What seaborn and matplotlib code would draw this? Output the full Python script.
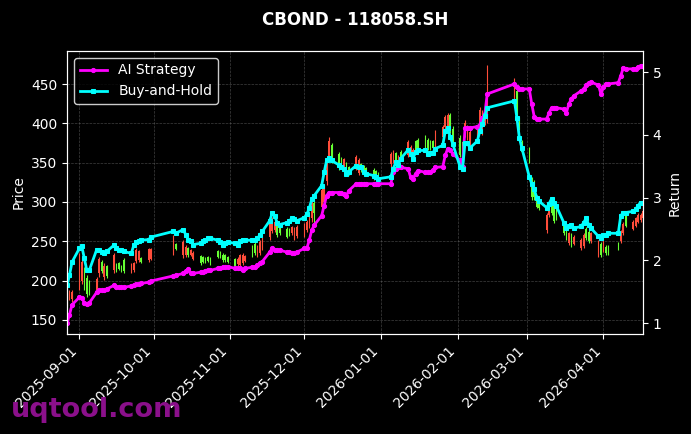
import numpy as np
import pandas as pd
import matplotlib
matplotlib.use("Agg")
import matplotlib.pyplot as plt
import matplotlib.dates as mdates
import seaborn as sns

# trading calendar (SSE holidays removed)
holidays = ["2025-10-01", "2025-10-02", "2025-10-03", "2025-10-06", "2025-10-07", "2025-10-08",
            "2026-01-01", "2026-01-02",
            "2026-02-16", "2026-02-17", "2026-02-18", "2026-02-19", "2026-02-20", "2026-02-23",
            "2026-04-06"]
dates = pd.bdate_range("2025-08-27", "2026-04-17")
dates = dates[~dates.isin(pd.to_datetime(holidays))]

open_ = [182, 186, 185, 228, 224, 192, 183, 185, 202, 227,
         212, 219, 206, 232, 213, 215, 212, 212, 220, 222,
         239, 237, 224, 240, 240, 255, 240, 249, 243, 232,
         239, 235, 222, 224, 224, 225, 222, 230, 231, 226,
         226, 224, 219, 228, 232, 233, 231, 232, 235, 243,
         249, 253, 272, 278, 275, 258, 260, 256, 259, 268,
         266, 268, 271, 275, 281, 302, 286, 315, 318, 350,
         378, 353, 344, 347, 354, 336, 336, 357, 353, 340,
         336, 336, 330, 332, 330, 361, 364, 352, 358, 355,
         376, 370, 366, 366, 368, 369, 368, 368, 368, 388,
         395, 408, 410, 391, 378, 360, 357, 401, 395, 389,
         395, 417, 413, 414, 432, 453, 412, 394, 364, 352,
         306, 306, 294, 292, 283, 296, 286, 276, 279, 260,
         254, 260, 245, 256, 252, 258, 254, 250, 260, 249,
         233, 250, 235, 235, 240, 262, 272, 270, 275, 279,
         284, 284, 288]
high = [184, 188, 188, 235, 229, 217, 207, 201, 205, 230,
        226, 222, 220, 235, 222, 224, 220, 229, 222, 224,
        242, 239, 230, 242, 242, 258, 248, 252, 245, 243,
        240, 237, 233, 231, 230, 231, 230, 239, 238, 235,
        234, 231, 229, 230, 234, 235, 233, 245, 249, 245,
        252, 256, 275, 281, 277, 273, 271, 268, 267, 270,
        268, 271, 273, 277, 284, 306, 303, 319, 322, 354,
        383, 375, 364, 357, 356, 351, 346, 360, 356, 350,
        347, 345, 343, 341, 338, 364, 366, 364, 360, 366,
        379, 373, 369, 379, 381, 385, 381, 379, 379, 392,
        398, 411, 413, 413, 396, 385, 379, 404, 398, 392,
        398, 421, 417, 417, 474, 458, 446, 408, 379, 370,
        332, 328, 309, 303, 286, 299, 303, 299, 296, 275,
        268, 262, 261, 258, 254, 261, 268, 264, 262, 252,
        249, 252, 245, 245, 249, 264, 275, 286, 277, 281,
        286, 286, 290]
low = [167, 175, 173, 188, 195, 188, 179, 182, 184, 205,
       210, 201, 203, 210, 211, 214, 211, 210, 210, 211,
       222, 224, 222, 224, 226, 233, 239, 229, 230, 230,
       231, 226, 220, 222, 222, 224, 220, 229, 229, 224,
       224, 222, 217, 219, 217, 220, 224, 230, 233, 230,
       233, 239, 252, 261, 262, 256, 258, 254, 257, 258,
       252, 254, 256, 262, 267, 275, 273, 290, 296, 322,
       354, 350, 341, 345, 338, 334, 334, 341, 334, 338,
       334, 334, 328, 331, 328, 345, 350, 350, 347, 354,
       357, 357, 354, 364, 366, 366, 366, 366, 366, 366,
       379, 392, 394, 388, 375, 357, 354, 383, 379, 370,
       379, 392, 385, 398, 401, 423, 408, 392, 362, 350,
       303, 303, 292, 290, 261, 281, 284, 273, 277, 258,
       252, 245, 243, 245, 239, 242, 252, 248, 248, 230,
       230, 236, 233, 233, 239, 248, 258, 268, 264, 268,
       273, 275, 277]
close = [170, 178, 176, 195, 200, 212, 203, 198, 188, 209,
         224, 204, 218, 213, 220, 222, 218, 226, 212, 213,
         225, 226, 229, 226, 228, 236, 247, 232, 232, 241,
         233, 228, 231, 230, 228, 230, 228, 237, 236, 233,
         232, 230, 227, 221, 220, 222, 225, 243, 247, 232,
         235, 241, 255, 263, 264, 271, 269, 266, 265, 260,
         254, 257, 258, 264, 270, 279, 299, 294, 300, 326,
         358, 372, 361, 355, 341, 349, 344, 344, 337, 348,
         345, 343, 341, 339, 336, 348, 352, 362, 349, 364,
         360, 360, 356, 377, 379, 382, 379, 377, 377, 370,
         382, 395, 397, 410, 393, 381, 376, 386, 382, 373,
         382, 396, 389, 401, 405, 428, 441, 405, 376, 367,
         328, 324, 306, 301, 264, 284, 300, 296, 293, 272,
         266, 248, 258, 247, 241, 244, 266, 262, 250, 233,
         246, 239, 243, 243, 247, 250, 261, 284, 266, 270,
         275, 277, 279]

ai_ret = [1.00, 1.13, 1.29, 1.41, 1.40, 1.32, 1.30, 1.32, 1.49, 1.52,
          1.52, 1.52, 1.54, 1.60, 1.57, 1.57, 1.57, 1.57, 1.59, 1.60,
          1.62, 1.62, 1.63, 1.65, 1.67, 1.75, 1.76, 1.79, 1.83, 1.86,
          1.79, 1.79, 1.81, 1.81, 1.83, 1.84, 1.84, 1.87, 1.87, 1.89,
          1.89, 1.90, 1.87, 1.87, 1.87, 1.84, 1.87, 1.89, 1.90, 1.92,
          1.95, 1.98, 2.13, 2.19, 2.17, 2.16, 2.16, 2.13, 2.13, 2.11,
          2.11, 2.13, 2.19, 2.19, 2.32, 2.48, 2.56, 2.71, 2.87, 3.03,
          3.08, 3.08, 3.08, 3.08, 3.05, 3.03, 3.11, 3.22, 3.22, 3.22,
          3.22, 3.22, 3.22, 3.22, 3.22, 3.22, 3.40, 3.46, 3.48, 3.48,
          3.46, 3.32, 3.30, 3.38, 3.43, 3.40, 3.40, 3.40, 3.44, 3.48,
          3.49, 3.67, 3.78, 3.75, 3.70, 3.59, 3.49, 4.10, 4.11, 4.11,
          4.13, 4.16, 4.27, 4.33, 4.65, 4.81, 4.76, 4.73, 4.73, 4.73,
          4.49, 4.29, 4.25, 4.25, 4.25, 4.35, 4.43, 4.43, 4.43, 4.41,
          4.35, 4.49, 4.57, 4.62, 4.70, 4.73, 4.79, 4.83, 4.84, 4.79,
          4.65, 4.76, 4.81, 4.81, 4.83, 4.94, 5.06, 5.05, 5.05, 5.05,
          5.08, 5.10, 5.10]
bh_ret = [1.60, 1.76, 1.97, 2.19, 2.22, 2.03, 1.84, 1.84, 2.17, 2.16,
          2.13, 2.11, 2.14, 2.24, 2.19, 2.17, 2.16, 2.14, 2.11, 2.24,
          2.29, 2.30, 2.32, 2.33, 2.37, 2.46, 2.43, 2.49, 2.41, 2.33,
          2.30, 2.25, 2.27, 2.30, 2.32, 2.35, 2.35, 2.32, 2.29, 2.25,
          2.27, 2.29, 2.27, 2.25, 2.30, 2.33, 2.32, 2.32, 2.32, 2.35,
          2.40, 2.46, 2.63, 2.75, 2.71, 2.60, 2.57, 2.60, 2.63, 2.67,
          2.65, 2.63, 2.68, 2.73, 2.83, 2.97, 3.03, 3.19, 3.40, 3.59,
          3.63, 3.59, 3.52, 3.49, 3.46, 3.37, 3.41, 3.51, 3.49, 3.48,
          3.41, 3.38, 3.35, 3.32, 3.30, 3.33, 3.46, 3.56, 3.52, 3.62,
          3.76, 3.70, 3.62, 3.73, 3.75, 3.75, 3.70, 3.71, 3.71, 3.78,
          3.83, 4.06, 4.10, 3.97, 3.86, 3.49, 3.46, 3.87, 3.87, 3.79,
          3.90, 4.06, 4.17, 4.30, 4.43, 4.54, 4.27, 3.95, 3.79, 3.33,
          3.22, 3.13, 3.00, 2.94, 2.84, 2.90, 2.98, 2.92, 2.86, 2.60,
          2.51, 2.54, 2.56, 2.51, 2.54, 2.60, 2.67, 2.57, 2.51, 2.38,
          2.35, 2.40, 2.41, 2.43, 2.43, 2.71, 2.76, 2.76, 2.78, 2.81,
          2.87, 2.92, 2.92]

df = pd.DataFrame({"date": dates, "open": open_, "high": high, "low": low, "close": close,
                   "ai": ai_ret, "bh": bh_ret})

plt.style.use("dark_background")
fig, ax = plt.subplots(figsize=(6.91, 4.34), dpi=100)
fig.subplots_adjust(left=0.097, right=0.9305, top=0.8825, bottom=0.2304)

# candles
up = df["close"] >= df["open"]
cols = np.where(up, "#66ff33", "#ff4d3a")
ax.vlines(df["date"], df["low"], df["high"], colors=cols, linewidth=0.8)
ax.bar(df["date"], (df["close"] - df["open"]).abs(), bottom=np.minimum(df["open"], df["close"]),
       width=0.6, color=cols)
ax.set_ylim(132, 492)
ax.set_ylabel("Price")
ax.grid(True, linestyle="--", linewidth=0.5, color="gray", alpha=0.5)

# returns
ax2 = ax.twinx()
sns.lineplot(data=df, x="date", y="ai", ax=ax2, color="#ff00ff", linewidth=2,
             marker="o", markersize=3, markeredgecolor="#ff00ff", label="AI Strategy")
sns.lineplot(data=df, x="date", y="bh", ax=ax2, color="#00ffff", linewidth=2,
             marker="s", markersize=3, markeredgecolor="#00ffff", label="Buy-and-Hold")
ax2.set_ylim(0.825, 5.335)
ax2.set_ylabel("Return")
ax2.set_xlabel("")
ax2.grid(False)
ax2.legend(loc="upper left", facecolor="black", edgecolor="white", fontsize=10)

ax.xaxis.set_major_locator(mdates.MonthLocator())
ax.xaxis.set_major_formatter(mdates.DateFormatter("%Y-%m-%d"))
ax.set_xlim(df["date"].iloc[0], df["date"].iloc[-1])
ax.set_xlabel("")
plt.setp(ax.get_xticklabels(), rotation=45, ha="right")

ax.set_title("CBOND - 118058.SH", fontsize=12, fontweight="bold", pad=19)
fig.text(0.016, 0.039, "uqtool.com", fontsize=19.5, fontweight="bold", color="#8b108b",
         ha="left", va="baseline")

fig.savefig("out.png", dpi=100, facecolor="black")
